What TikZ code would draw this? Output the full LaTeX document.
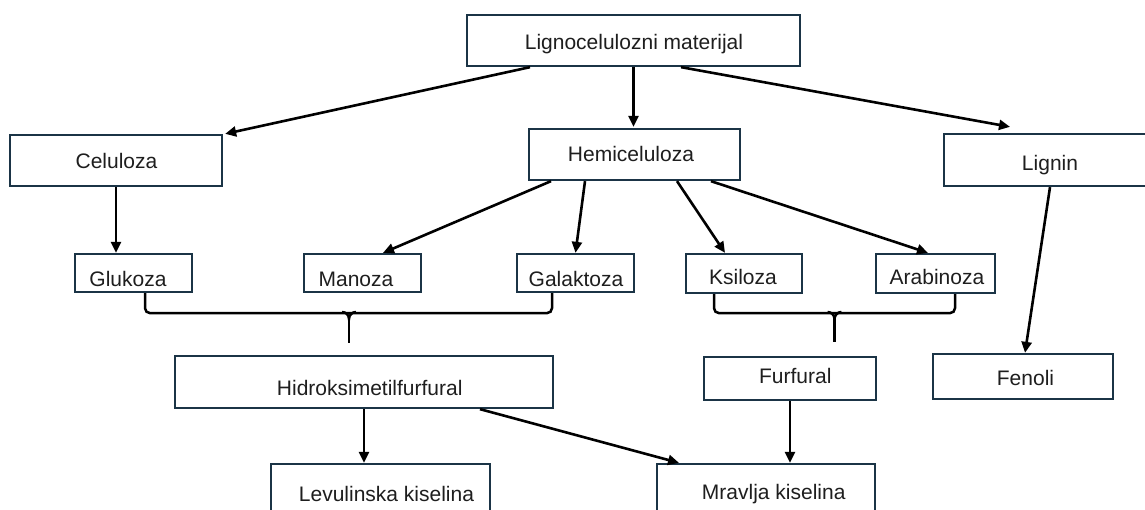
\documentclass[tikz,border=0pt]{standalone}
\usepackage{fontspec}
\setmainfont{Liberation Sans}
\usetikzlibrary{arrows.meta}
\definecolor{boxline}{HTML}{1B3446}
\definecolor{txt}{HTML}{1E1E1E}
\begin{document}
\begin{tikzpicture}[x=1pt,y=-1pt,
  box/.style={draw=boxline,line width=2.3pt,fill=white,inner sep=0pt,rectangle},
  lbl/.style={anchor=base,inner sep=0pt,text=txt,font=\fontsize{21}{25}\selectfont},
  arr/.style={line width=2.6pt,-{Triangle[length=11pt,width=10pt]}},
  brk/.style={line width=2.5pt,rounded corners=5pt},
  stem/.style={line width=2.5pt}]
\clip (0,0) rectangle (1145,509);
\useasboundingbox (0,0) rectangle (1145,509);

% boxes
\node[box,minimum width=333pt,minimum height=51pt] (ligno) at (633.5,40.5) {};
\node[box,minimum width=212pt,minimum height=51pt] (cel) at (116,160.5) {};
\node[box,minimum width=211pt,minimum height=51pt] (hemi) at (634.5,154.5) {};
\node[box,minimum width=212pt,minimum height=52pt] (lignin) at (1050,160) {};
\node[box,minimum width=117pt,minimum height=38pt] (glu) at (133.5,273) {};
\node[box,minimum width=117pt,minimum height=38pt] (man) at (362.5,273) {};
\node[box,minimum width=117pt,minimum height=38pt] (gal) at (575.5,273) {};
\node[box,minimum width=116pt,minimum height=39pt] (ksi) at (744,273.5) {};
\node[box,minimum width=119pt,minimum height=39pt] (ara) at (935.5,273.5) {};
\node[box,minimum width=378pt,minimum height=52pt] (hmf) at (364,382) {};
\node[box,minimum width=172pt,minimum height=43pt] (fur) at (790,378.5) {};
\node[box,minimum width=180pt,minimum height=45pt] (fen) at (1023,376.5) {};
\node[box,minimum width=219pt,minimum height=52pt] (lev) at (380.5,490) {};
\node[box,minimum width=218pt,minimum height=52pt] (mra) at (766,490) {};

% labels
\node[lbl] (ligno-t) at (634,49.3) {Lignocelulozni materijal};
\node[lbl] (cel-t) at (116.5,168.5) {Celuloza};
\node[lbl] (hemi-t) at (631,161) {Hemiceluloza};
\node[lbl] (lignin-t) at (1050,170) {Lignin};
\node[lbl] (glu-t) at (128,286.5) {Glukoza};
\node[lbl] (man-t) at (356,286) {Manoza};
\node[lbl] (gal-t) at (576,286) {Galaktoza};
\node[lbl] (ksi-t) at (743,284.5) {Ksiloza};
\node[lbl] (ara-t) at (937,284.5) {Arabinoza};
\node[lbl] (hmf-t) at (369.7,395) {Hidroksimetilfurfural};
\node[lbl] (fur-t) at (795.3,383.3) {Furfural};
\node[lbl] (fen-t) at (1025.5,385) {Fenoli};
\node[lbl] (lev-t) at (386.5,501.5) {Levulinska kiselina};
\node[lbl] (mra-t) at (773.7,499) {Mravlja kiselina};

% arrows
\draw[arr] ([xshift=-103.5pt]ligno.south) -- ([xshift=2pt]cel.north east);
\draw[arr] (ligno.south) -- ([yshift=1pt]ligno.south |- hemi.north);
\draw[arr] ([xshift=47.5pt]ligno.south) -- ([xshift=-40pt,yshift=6pt]lignin.north);
\draw[arr] (cel.south) -- (cel.south |- glu.north);
\draw[arr] ([xshift=-83.5pt]hemi.south) -- ([xshift=20.5pt]man.north);
\draw[arr] ([xshift=-49.5pt]hemi.south) -- (gal.north);
\draw[arr] ([xshift=42.5pt]hemi.south) -- ([xshift=-19pt]ksi.north);
\draw[arr] ([xshift=76.5pt]hemi.south) -- ([xshift=-7.5pt]ara.north);
\draw[arr] (lignin.south) -- ([xshift=2pt]fen.north);
\draw[arr] (hmf.south) -- (hmf.south |- lev.north);
\draw[arr] ([xshift=116pt]hmf.south) -- ([xshift=-87pt]mra.north);
\draw[arr] (fur.south) -- (fur.south |- mra.north);

% brackets
\coordinate (b1) at (349,343);
\coordinate (b2) at (834.5,342);
\draw[brk] ([xshift=11.5pt]glu.south) -- ([xshift=11.5pt,yshift=-20pt]glu.south)
  -- ([xshift=-23.5pt,yshift=-20pt]gal.south) -- ([xshift=-23.5pt]gal.south);
\draw[stem] (342,312) to[out=0,in=90] (349,319) to[out=90,in=180] (356,312);
\draw[stem] (349,319) -- (b1);
\draw[brk] ([xshift=-30pt]ksi.south) -- ([xshift=-30pt,yshift=-19pt]ksi.south)
  -- ([xshift=19.5pt,yshift=-19pt]ara.south) -- ([xshift=19.5pt]ara.south);
\draw[stem] (827.5,312) to[out=0,in=90] (834.5,319) to[out=90,in=180] (841.5,312);
\draw[stem] (834.5,319) -- (b2);
\end{tikzpicture}
\end{document}
